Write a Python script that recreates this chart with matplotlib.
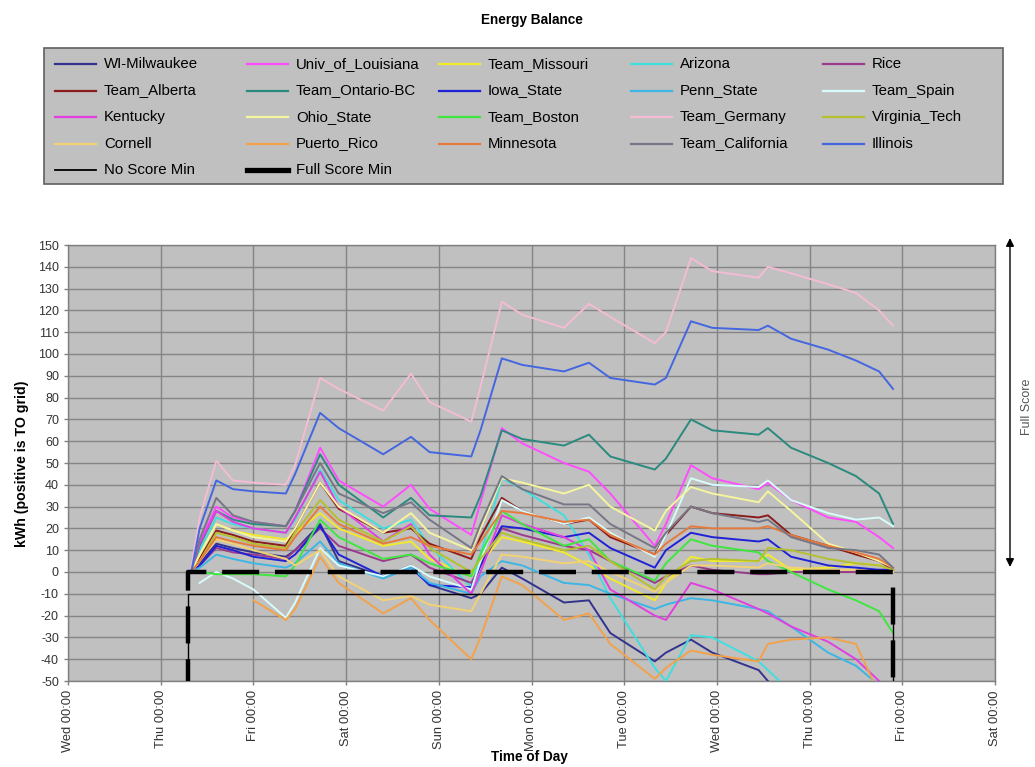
import numpy as np
import matplotlib
matplotlib.use("Agg")
import matplotlib.pyplot as plt
from matplotlib.lines import Line2D
from matplotlib.patches import Rectangle

plt.rcParams["font.family"] = ["Liberation Sans", "DejaVu Sans"]
plt.rcParams["axes.unicode_minus"] = False

nan = np.nan

# Time axis: days since Wednesday 00:00
day_labels = ["Wed 00:00", "Thu 00:00", "Fri 00:00", "Sat 00:00", "Sun 00:00", "Mon 00:00",
              "Tue 00:00", "Wed 00:00", "Thu 00:00", "Fri 00:00", "Sat 00:00"]

t = [1.33, 1.42, 1.60, 1.78, 2.00, 2.35, 2.45, 2.72, 2.92, 3.40, 3.70, 3.90, 4.35, 4.45, 4.68,
     4.90, 5.35, 5.62, 5.85, 6.33, 6.45, 6.72, 6.95, 7.45, 7.55, 7.80, 8.20, 8.50, 8.75, 8.90]

# Cumulative energy balance per team (kWh, positive is TO grid)
wi_milwaukee = [0, 4, 13, 11, 9, 7, 10, 22, 5, -2, 3, -6, -12, -10, 2, -3, -14, -13, -28, -41,
                -37, -31, -37, -45, -50, -58, nan, nan, nan, nan]
univ_of_louisiana = [0, 14, 30, 25, 23, 21, 28, 57, 42, 30, 40, 29, 17, 32, 66, 59, 50, 46, 36, 12,
                     22, 49, 43, 38, 41, 33, 25, 23, 16, 11]
team_missouri = [0, 8, 22, 19, 17, 15, 18, 27, 20, 12, 14, 6, -2, 4, 16, 14, 9, 3, -3, -13,
                 -5, 7, 5, 5, 8, 1, 2, 4, 3, 1]
arizona = [0, 10, 25, 22, 20, 18, 24, 47, 33, 20, 24, 12, -7, 8, 43, 38, 26, 8, -12, -44,
           -50, -29, -30, -41, -45, -55, nan, nan, nan, nan]
rice = [0, 3, 11, 9, 8, 6, 10, 20, 12, 5, 8, 2, -5, 3, 20, 17, 12, 10, 5, -5,
        -2, 3, 1, -1, -1, 0, 0, 0, 1, 1]
team_alberta = [0, 6, 19, 17, 14, 12, 20, 41, 29, 18, 20, 13, 6, 16, 34, 28, 22, 24, 16, 8,
                17, 30, 27, 25, 26, 17, 12, 8, 5, 1]
team_ontario_bc = [0, 12, 28, 24, 22, 21, 28, 54, 40, 25, 34, 26, 25, 35, 65, 61, 58, 63, 53, 47,
                   52, 70, 65, 63, 66, 57, 50, 44, 36, 22]
iowa_state = [0, 3, 12, 10, 7, 5, 8, 21, 8, -2, 2, -6, -7, 3, 21, 20, 16, 18, 11, 2,
              10, 18, 16, 14, 15, 7, 3, 2, 1, 1]
penn_state = [0, 2, 8, 6, 4, 2, 4, 14, 4, -3, 2, -5, -10, -2, 5, 3, -5, -6, -10, -17,
              -15, -12, -13, -17, -18, -25, -37, -43, -52, nan]
team_spain = [nan, -5, 0, -3, -8, -21, -14, 11, 3, -2, 3, -2, -8, 5, 33, 28, 22, 25, 18, 7,
              17, 43, 40, 39, 42, 33, 27, 24, 25, 21]
kentucky = [0, 13, 28, 23, 20, 18, 25, 46, 30, 14, 22, 8, -10, 0, 26, 22, 16, 10, -8, -20,
            -22, -5, -8, -17, -19, -25, -32, -40, -50, nan]
ohio_state = [0, 8, 22, 19, 16, 14, 20, 41, 30, 18, 27, 18, 10, 20, 43, 41, 36, 40, 30, 19,
              28, 39, 36, 32, 37, 28, 13, 9, 5, 2]
team_boston = [0, 0, -1, -1, -1, -2, 3, 24, 16, 6, 8, 4, -2, 8, 28, 22, 12, 15, 5, -4,
               4, 15, 12, 9, 5, 0, -8, -13, -18, -28]
team_germany = [2, 25, 51, 42, 41, 40, 49, 89, 84, 74, 91, 78, 69, 85, 124, 118, 112, 123, 117, 105,
                110, 144, 138, 135, 140, 137, 132, 128, 120, 113]
virginia_tech = [0, 5, 18, 16, 13, 11, 18, 33, 24, 14, 21, 11, 0, 6, 18, 15, 10, 12, 5, -8,
                 -2, 5, 6, 5, 11, 10, 6, 4, 3, 1]
cornell = [0, 5, 15, 13, 10, 6, 3, 10, -2, -13, -11, -15, -18, -10, 8, 7, 4, 5, 0, -9,
           -5, 3, 3, 2, 4, 2, 1, 1, 0, 0]
puerto_rico = [nan, nan, nan, nan, -13, -22, -17, 7, -5, -19, -12, -22, -40, -30, -2, -6, -22, -19, -33, -49,
               -44, -36, -38, -41, -33, -31, -30, -33, -56, nan]
minnesota = [0, 5, 16, 14, 12, 10, 16, 30, 22, 13, 16, 12, 8, 14, 28, 27, 23, 24, 17, 8,
             13, 21, 20, 20, 21, 17, 12, 9, 6, 2]
team_california = [0, 15, 34, 26, 23, 21, 28, 50, 36, 27, 32, 24, 11, 22, 44, 38, 31, 31, 22, 11,
                   18, 30, 27, 23, 24, 16, 11, 10, 8, 2]
illinois = [0, 20, 42, 38, 37, 36, 45, 73, 66, 54, 62, 55, 53, 65, 98, 95, 92, 96, 89, 86,
            89, 115, 112, 111, 113, 107, 102, 97, 92, 84]

team_names = ["WI-Milwaukee", "Univ_of_Louisiana", "Team_Missouri", "Arizona", "Rice",
              "Team_Alberta", "Team_Ontario-BC", "Iowa_State", "Penn_State", "Team_Spain",
              "Kentucky", "Ohio_State", "Team_Boston", "Team_Germany", "Virginia_Tech",
              "Cornell", "Puerto_Rico", "Minnesota", "Team_California", "Illinois"]
team_values = [wi_milwaukee, univ_of_louisiana, team_missouri, arizona, rice,
               team_alberta, team_ontario_bc, iowa_state, penn_state, team_spain,
               kentucky, ohio_state, team_boston, team_germany, virginia_tech,
               cornell, puerto_rico, minnesota, team_california, illinois]
team_colors = ["#33338f", "#ff4cff", "#f2ea2a", "#40dede", "#9b3a8c",
               "#8a1c1c", "#2a8a7e", "#1f22d6", "#3cb6e4", "#d8fbfb",
               "#e23ee2", "#f5f5a0", "#3fe63f", "#f4bcd4", "#b4c02e",
               "#f2d272", "#f2a24a", "#e67a3c", "#767686", "#4466e0"]

# Scoring limits over the contest window
limit_t = [1.295, 1.295, 8.90, 8.90]
no_score_min = [-50, -10, -10, -50]
full_score_min = [-50, 0, 0, -50]

W, H = 1035, 767
fig = plt.figure(figsize=(W / 100, H / 100), dpi=100)
fig.patch.set_facecolor("white")


def fx(px):
    return px / W


def fy(py):
    return 1 - py / H


ax = fig.add_axes([fx(68), fy(681), fx(995) - fx(68), fy(245) - fy(681)])
ax.set_facecolor("#c0c0c0")

for vals, col in zip(team_values, team_colors):
    ax.plot(t, vals, color=col, lw=1.4, solid_joinstyle="round", zorder=3)
ax.plot(limit_t, no_score_min, color="black", lw=1.0, zorder=4)
ax.plot(limit_t, full_score_min, color="black", lw=3.2,
        linestyle=(3.43, (8.33, 3.55)), dash_capstyle="butt", zorder=5)

ax.set_xlim(0, 10)
ax.set_ylim(-50, 150)
ax.set_xticks(range(len(day_labels)))
ax.set_xticklabels(day_labels, rotation=90, fontsize=9.3, color="#333333")
ax.set_yticks(range(-50, 151, 10))
ax.tick_params(axis="y", labelsize=9, labelcolor="#333333")
ax.tick_params(direction="out", length=3, color="#808080", width=1)
ax.grid(True, color="#858585", lw=1.0)
ax.set_axisbelow(True)
for sp in ax.spines.values():
    sp.set_color("#808080")
    sp.set_linewidth(1.0)

# Titles and axis labels
fig.text(fx(532), fy(20), "Energy Balance", ha="center", va="center",
         fontsize=9.8, fontweight="bold")
fig.text(fx(22), fy(464), "kWh (positive is TO grid)", ha="center", va="center",
         rotation=90, fontsize=10.2, fontweight="bold")
fig.text(fx(529), fy(757), "Time of Day", ha="center", va="center",
         fontsize=9.8, fontweight="bold")

# Full score range marker on the right
ax.annotate("", xy=(fx(1010), fy(567)), xytext=(fx(1010), fy(238)),
            xycoords="figure fraction", textcoords="figure fraction",
            arrowprops=dict(arrowstyle="<|-|>", color="black", lw=1.0,
                            mutation_scale=12, shrinkA=0, shrinkB=0))
fig.text(fx(1027), fy(407), "Full Score", ha="center", va="center", rotation=90,
         fontsize=9, color="#555555")

# Legend box laid out in a 5-column grid
fig.add_artist(Rectangle((fx(44), fy(184)), fx(1003) - fx(44), fy(48) - fy(184),
                         transform=fig.transFigure, facecolor="#c0c0c0",
                         edgecolor="#606060", lw=1.2, zorder=1))
entries = [(n, c, 1.6) for n, c in zip(team_names, team_colors)]
entries += [("No Score Min", "black", 1.3), ("Full Score Min", "black", 3.8)]
for i, (name, col, lw) in enumerate(entries):
    r, c = divmod(i, 5)
    x0 = 55 + 192 * c
    y0 = 64 + 26.5 * r
    fig.add_artist(Line2D([fx(x0), fx(x0 + 41)], [fy(y0), fy(y0)], color=col, lw=lw,
                          transform=fig.transFigure, zorder=2))
    fig.text(fx(x0 + 49), fy(y0), name, ha="left", va="center", fontsize=10.8, zorder=3)

fig.savefig("out.png", dpi=100, facecolor="white")
